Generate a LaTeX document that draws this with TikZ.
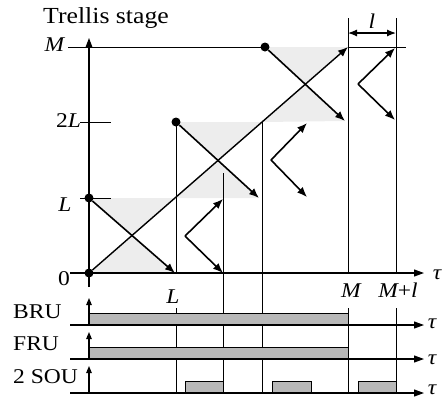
\documentclass[tikz,border=0pt]{standalone}
\usepackage{fontspec}
\setmainfont{Liberation Serif}
\newfontfamily\lblfont{Liberation Serif}[FakeStretch=1.12]
\usetikzlibrary{arrows.meta}

\begin{document}
\begin{tikzpicture}[x=1pt,y=-1pt,
  lbl/.style={font=\lblfont\fontsize{21}{23}\selectfont, inner sep=0pt},
  ttl/.style={font=\lblfont\fontsize{23}{26}\selectfont, inner sep=0pt},
  axis/.style={line width=1.1pt, -{Triangle[length=9pt,width=6.5pt]}},
  grid/.style={line width=0.8pt},
  tick/.style={line width=1pt},
  tarrow/.style={line width=1.6pt, -{Latex[length=10pt,width=8pt]}},
  dim/.style={line width=1.2pt, {Latex[length=9pt,width=7pt]}-{Latex[length=9pt,width=7pt]}},
  dot/.style={circle, fill=black, inner sep=0pt, minimum size=9pt},
  shadeX/.style={fill=black!7},
  bar/.style={draw=black, line width=0.8pt, fill=black!28},
]
\useasboundingbox (0,0) rectangle (448,405);

% ---------- trellis plane: key points ----------
\coordinate (O)    at (89,273);
\coordinate (yTop) at (89,38);
\coordinate (yBot) at (89,287);
\coordinate (tauL) at (70,273);
\coordinate (tauR) at (424,273);
\coordinate (MM)   at (348,47);
\coordinate (A1)   at (175,198);
\coordinate (A2)   at (262,122);
\coordinate (p1)   at (89,198);
\coordinate (p2)   at (176,122);
\coordinate (p3)   at (265,47);
\coordinate (e1)   at (175,273);
\coordinate (e2)   at (259,198);
\coordinate (e3)   at (345,121);
\coordinate (c1) at (intersection of p1--e1 and O--MM);
\coordinate (c2) at (intersection of p2--e2 and O--MM);
\coordinate (c3) at (intersection of p3--e3 and O--MM);

% ---------- shaded hourglasses ----------
\fill[shadeX] (p1) -- (A1) -- (c1) -- cycle;
\fill[shadeX] (O)  -- (e1) -- (c1) -- cycle;
\fill[shadeX] (p2) -- (A2) -- (c2) -- cycle;
\fill[shadeX] (A1) -- (e2) -- (c2) -- cycle;
\fill[shadeX] (p3) -- (MM) -- (c3) -- cycle;
\fill[shadeX] (A2) -- (e3) -- (c3) -- cycle;

% ---------- vertical time marks ----------
\coordinate (vLa) at (176,273); \coordinate (vLb) at (176,308); \coordinate (vLc) at (176,393);
\coordinate (vQa) at (223,173); \coordinate (vQb) at (223,393);
\coordinate (vRb) at (262,393);
\coordinate (vMa) at (348,18);  \coordinate (vMb) at (348,273);
\coordinate (vMc) at (348,308); \coordinate (vMd) at (348,393);
\coordinate (vNa) at (396,18);  \coordinate (vNb) at (396,273);
\coordinate (vNc) at (396,308); \coordinate (vNd) at (396,393);
\draw[grid] (p2) -- (vLa);
\draw[grid] (vLb) -- (vLc);
\draw[grid] (vQa) -- (vQb);
\draw[grid] (A2) -- (vRb);
\draw[grid] (vMa) -- (vMb);
\draw[grid] (vMc) -- (vMd);
\draw[grid] (vNa) -- (vNb);
\draw[grid] (vNc) -- (vNd);

% ---------- level ticks ----------
\coordinate (tLa) at (80,198);  \coordinate (tLb) at (111,198);
\coordinate (t2a) at (80,122);  \coordinate (t2b) at (111,122);
\coordinate (tMa) at (68,47);   \coordinate (tMb) at (406,47);
\draw[tick] (tLa) -- (tLb);
\draw[tick] (t2a) -- (t2b);
\draw[tick] (tMa) -- (p3);
\draw[tick] (MM) -- (tMb);

% ---------- axes ----------
\draw[axis] (yBot) -- (yTop);
\draw[axis, -{Triangle[length=10pt,width=7pt]}] (tauL) -- (tauR);

% ---------- window width l ----------
\coordinate (wa) at (348,33); \coordinate (wb) at (396,33);
\draw[dim] (wa) -- (wb);
\node[lbl, font=\lblfont\itshape\fontsize{21}{23}\selectfont] (lw) at (372,21) {l};

% ---------- trellis dots and recursions ----------
\node[dot] (d0) at (O)  {};
\node[dot] (d1) at (p1) {};
\node[dot] (d2) at (p2) {};
\node[dot] (d3) at (p3) {};
\draw[line width=1.4pt, -{Latex[length=10pt,width=8pt]}] (d0) -- (MM);
\draw[tarrow] (d1) -- (e1);
\draw[tarrow] (d2) -- (e2);
\draw[tarrow] (d3) -- (e3);

% ---------- short window recursions ----------
\coordinate (v1) at (185,236); \coordinate (v1u) at (223,199); \coordinate (v1d) at (223,273);
\coordinate (v2) at (271,160); \coordinate (v2u) at (307,123); \coordinate (v2d) at (307,197);
\coordinate (v3) at (358,84);  \coordinate (v3u) at (395,48);  \coordinate (v3d) at (395,120);
\draw[tarrow] (v1) -- (v1u); \draw[tarrow] (v1) -- (v1d);
\draw[tarrow] (v2) -- (v2u); \draw[tarrow] (v2) -- (v2d);
\draw[tarrow] (v3) -- (v3u); \draw[tarrow] (v3) -- (v3d);

% ---------- labels of the trellis plane ----------
\node[ttl, anchor=base west] (title) at (43,23) {Trellis stage};
\node[lbl] (lM)  at (54.5,44.5) {\itshape M};
\node[lbl] (l2L) at (68.5,120.5) {2\itshape L};
\node[lbl] (lL)  at (65,205) {\itshape L};
\node[lbl] (l0)  at (64,279) {0};
\node[lbl, anchor=base] (bL)  at (173,303) {\itshape L};
\node[lbl, anchor=base] (bM)  at (351,297) {\itshape M};
\node[lbl, anchor=base] (bMl) at (398,297) {\itshape M\upshape+\itshape l};
\node[lbl] (tau0) at (437,275) {\itshape τ};

% ---------- unit activity ----------
\coordinate (bruL) at (70,325);  \coordinate (bruR) at (424,325);
\coordinate (fruL) at (70,359);  \coordinate (fruR) at (424,359);
\coordinate (souL) at (70,393);  \coordinate (souR) at (424,393);
\coordinate (bruO) at (89,325);  \coordinate (bruT) at (89,298);
\coordinate (fruO) at (89,359);  \coordinate (fruT) at (89,332);
\coordinate (souO) at (89,393);  \coordinate (souT) at (89,366);

\draw[bar] (89,313) rectangle (348,325);
\draw[bar] (89,347) rectangle (348,359);
\draw[bar] (185,381) rectangle (223,393);
\draw[bar] (272,381) rectangle (311,393);
\draw[bar] (358,381) rectangle (396,393);

\draw[axis, -{Triangle[length=10pt,width=7pt]}] (bruL) -- (bruR);
\draw[axis, -{Triangle[length=10pt,width=7pt]}] (fruL) -- (fruR);
\draw[axis, -{Triangle[length=10pt,width=7pt]}] (souL) -- (souR);
\draw[axis, -{Triangle[length=7pt,width=5.5pt]}] (bruO) -- (bruT);
\draw[axis, -{Triangle[length=7pt,width=5.5pt]}] (fruO) -- (fruT);
\draw[axis, -{Triangle[length=7pt,width=5.5pt]}] (souO) -- (souT);

\node[lbl, anchor=base west] (bru) at (13,318) {BRU};
\node[lbl, anchor=base west] (fru) at (13,350) {FRU};
\node[lbl, anchor=base west] (sou) at (13,383) {2 SOU};
\node[lbl] (tau1) at (432,324) {\itshape τ};
\node[lbl] (tau2) at (432,360) {\itshape τ};
\node[lbl] (tau3) at (432,390) {\itshape τ};
\end{tikzpicture}
\end{document}
